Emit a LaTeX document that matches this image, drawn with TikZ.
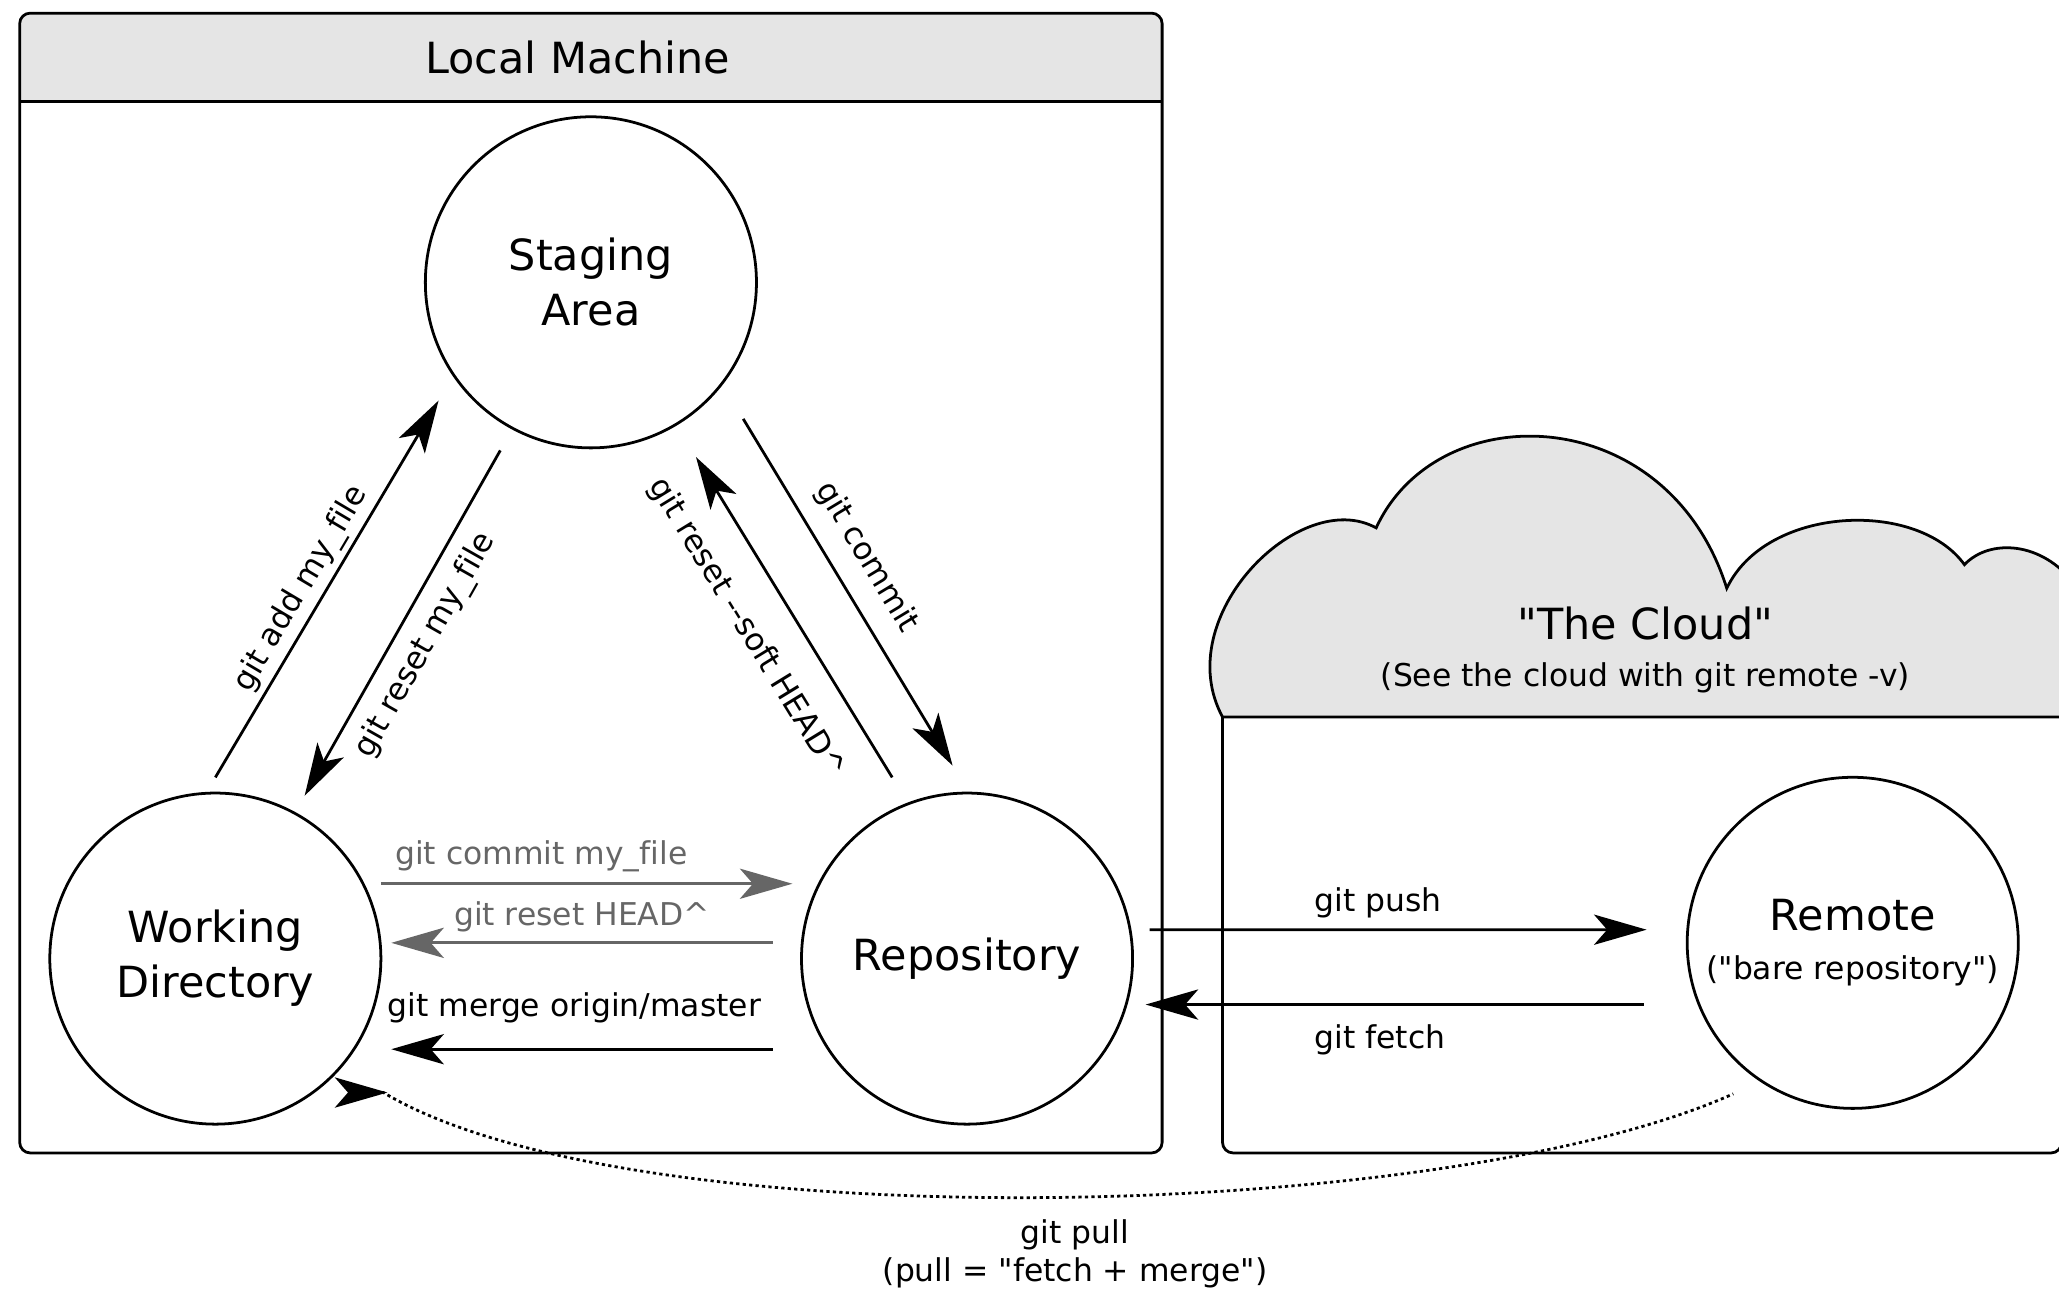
\documentclass[tikz,border=0pt]{standalone}
\usepackage{fontspec}
\setmainfont{DejaVu Sans}[Ligatures={TeXOff,CommonOff}]
\usetikzlibrary{arrows.meta,positioning,calc}

\definecolor{headgray}{gray}{0.9}
\definecolor{cmdgray}{gray}{0.4}

\begin{document}
\begin{tikzpicture}[
  x=0.01cm, y=-0.01cm,
  line width=0.6pt,
  area/.style={circle, draw, minimum size=2.52cm, inner sep=0pt, align=center, font=\fontsize{9.3}{11.9}\selectfont},
  title/.style={align=center, inner sep=0pt, font=\fontsize{9.3}{11.9}\selectfont},
  lbl/.style={inner sep=0pt, font=\fontsize{6.8}{8.2}\selectfont},
  frame/.style={draw, rounded corners=0.08cm},
  pullpath/.style={draw, dash pattern=on 0.7pt off 0.7pt},
  >={Stealth[length=4mm, width=2.3mm, inset=1mm]},
  every edge/.style={draw, ->}
]
\useasboundingbox (0,0) rectangle (1568,981);

% Local machine frame
\begin{scope}
  \clip[rounded corners=0.08cm] (15,10) rectangle (885,878);
  \fill[headgray] (15,10) rectangle (885,77);
\end{scope}
\draw[frame] (15,10) rectangle (885,878);
\draw (15,77) -- (885,77);
\node[title] (localtitle) at (440,44) {Local Machine};

% The cloud
\filldraw[fill=headgray] (931,546) .. controls (890,470) and (990,370) .. (1048,402)
  .. controls (1095,300) and (1270,305) .. (1315,448)
  .. controls (1345,385) and (1460,380) .. (1496,430)
  .. controls (1515,410) and (1555,412) .. (1580,445)
  -- (1580,546) -- cycle;
\draw[frame] (931,546) -- (931,878) -- (1570,878) -- (1570,546);
\node[title] (cloudtitle) at (1253,495) {"The Cloud"\\[-1.7pt]{\fontsize{6.8}{8.2}\selectfont (See the cloud with git remote -v)}};

% Areas
\node[area] (staging) at (450,215) {Staging\\Area};
\node[area] (work) at (164,730) {Working\\Directory};
\node[area, right=3.18cm of work] (repo) {Repository};
\node[area, right=4.2cm of repo, yshift=0.12cm] (remote) {Remote\\[-1.4pt]{\fontsize{6.8}{8.2}\selectfont ("bare repository")}};

% Edges: staging area
\path ($(work.center)+(0,-138)$) edge node[lbl, sloped, above=1.1pt, pos=0.47] {git add my\_file} ($(staging.center)+(-116,90)$);
\path ($(staging.center)+(-69,128)$) edge node[lbl, sloped, below=3.1pt, pos=0.52] {git reset my\_file} ($(work.center)+(68,-124)$);
\path ($(repo.center)+(-57,-138)$) edge node[lbl, sloped, below=6.5pt, pos=0.54] {git reset -\kern0pt-soft HEAD\textasciicircum} ($(staging.center)+(80,133)$);
\path ($(staging.center)+(116,104)$) edge node[lbl, sloped, above=3.8pt, pos=0.45] {git commit} ($(repo.center)+(-11,-147)$);

% Edges: working directory and repository
\path ($(work.center)+(126,-57)$) edge[draw=cmdgray] node[lbl, text=cmdgray, above=2.3pt, pos=0.39] {git commit my\_file} ($(repo.center)+(-133,-57)$);
\path ($(repo.center)+(-148,-12)$) edge[draw=cmdgray] node[lbl, text=cmdgray, above=2pt] {git reset HEAD\textasciicircum} ($(work.center)+(134,-12)$);
\path ($(repo.center)+(-148,69)$) edge node[lbl, above=5.4pt, pos=0.52] {git merge origin/master} ($(work.center)+(134,69)$);

% Edges: remote
\path ($(repo.center)+(139,-22)$) edge node[lbl, above=2.3pt, pos=0.46] {git push} ($(remote.center)+(-157,-10)$);
\path ($(remote.center)+(-159,47)$) edge node[lbl, below=4pt, pos=0.53] {git fetch} ($(repo.center)+(136,35)$);

% git pull
\draw[pullpath, {Stealth[length=4mm, width=2.3mm, inset=1mm, reversed]}-] ($(work.center)+(91,102)$) -- ++(37,0)
  .. controls (480,945) and (1100,932) .. node[lbl, align=center, below=4.6pt, pos=0.52] {git pull\\(pull = "fetch + merge")} ($(remote.center)+(-91,115)$);

\end{tikzpicture}
\end{document}
